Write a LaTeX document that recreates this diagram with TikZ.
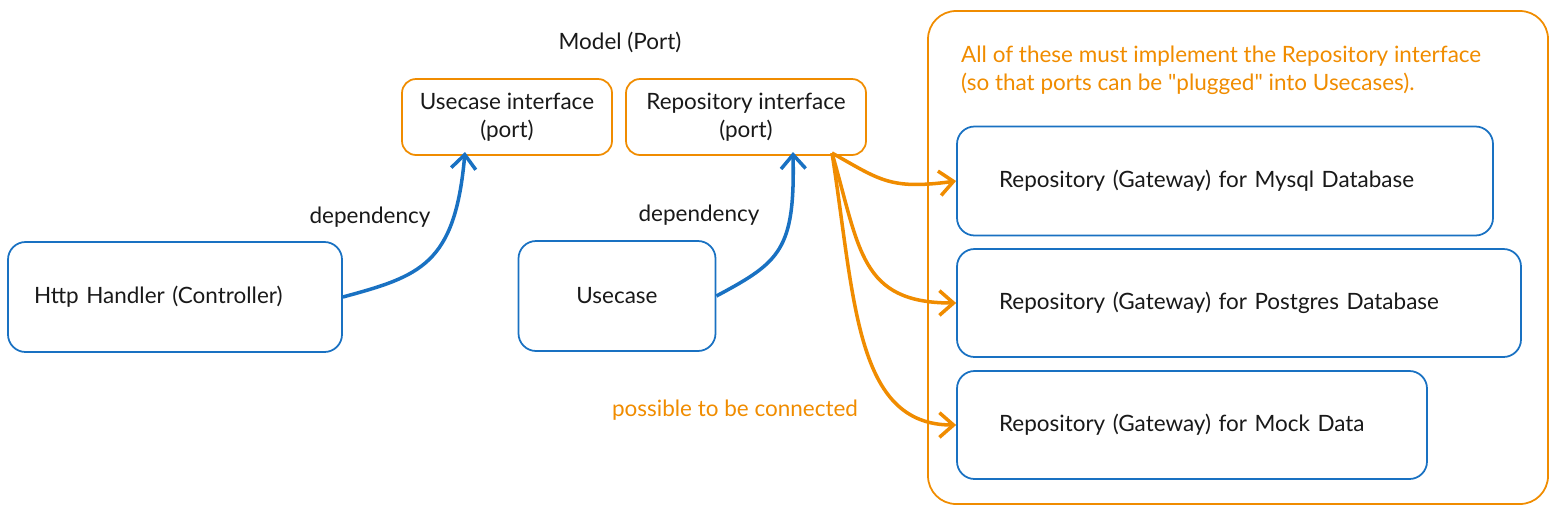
\documentclass[tikz,border=0pt]{standalone}
\usepackage{fontspec}
\setmainfont{Lato}[Ligatures=TeXOff]
\usetikzlibrary{positioning,arrows.meta}
\definecolor{portblue}{RGB}{25,113,194}
\definecolor{portorange}{RGB}{240,140,0}

\begin{document}
\begin{tikzpicture}[
    x=0.02cm, y=-0.02cm,
    every node/.style={font=\fontsize{12.8}{16}\selectfont, text=black!90},
    bluebox/.style={rectangle, rounded corners=10pt, draw=portblue, line width=1pt},
    gatebox/.style={bluebox, align=left, inner xsep=42*0.02cm, text width=#1},
    orangebox/.style={rectangle, rounded corners=8pt, draw=portorange, line width=1pt, align=center},
    dep/.style={-{Straight Barb[length=8pt,width=14pt]}, line width=2pt, portblue},
    plug/.style={-{Straight Barb[length=8pt,width=14pt]}, line width=2pt, portorange}
]
\useasboundingbox (0,0) rectangle (1561,514);

% Container of gateways
\draw[portorange, line width=1pt, rounded corners=16pt] (928,11) rectangle (1548,504);
\node[anchor=west, text=portorange, align=left] (note) at (955,70)
  {All of these must implement the Repository interface\\(so that ports can be "plugged" into Usecases).};

% Ports
\node (model) at (620,42) {Model (Port)};
\node[orangebox, minimum width=210*0.02cm, minimum height=76*0.02cm] (ucif) at (507,117) {Usecase interface\\(port)};
\node[orangebox, minimum width=240*0.02cm, minimum height=76*0.02cm] (repoif) at (746,117) {Repository interface\\(port)};

% Clients
\node[bluebox, align=left, inner xsep=26*0.02cm, text width=282*0.02cm, minimum height=110*0.02cm] (handler) at (175,297) {Http Handler (Controller)};
\node[bluebox, minimum width=197*0.02cm, minimum height=110*0.02cm] (usecase) at (617,296) {Usecase};

% Gateways
\node[gatebox=452*0.02cm, minimum height=109*0.02cm] (mysql) at (1225,181) {Repository (Gateway) for Mysql Database};
\node[gatebox=480*0.02cm, minimum height=108*0.02cm] (postgres) at (1239,303) {Repository (Gateway) for Postgres Database};
\node[gatebox=386*0.02cm, minimum height=108*0.02cm] (mock) at (1192,425) {Repository (Gateway) for Mock Data};

% Labels
\node (dep1) at (370,217) {dependency};
\node (dep2) at (699,215) {dependency};
\node[text=portorange] (possible) at (735,410) {possible to be connected};

% Dependencies
\coordinate (ucin) at (465,152);
\coordinate (repoin) at (793,152);
\coordinate (repoout) at (832,153);
\draw[dep] (handler.east) .. controls (420,276) and (455,265) .. (ucin);
\draw[dep] (usecase.east) .. controls (780,262) and (795,250) .. (repoin);

% Plugged gateways
\draw[plug] (repoout) .. controls (880,180) and (890,190) .. (mysql.west);
\draw[plug] (repoout) .. controls (860,250) and (860,303) .. (postgres.west);
\draw[plug] (repoout) .. controls (855,300) and (855,425) .. (mock.west);
\end{tikzpicture}
\end{document}
